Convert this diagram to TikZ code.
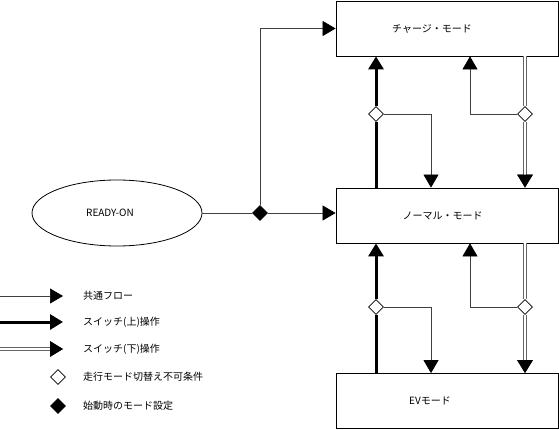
\documentclass[tikz,border=0pt]{standalone}
\usepackage{fontspec}
\setmainfont{Noto Sans CJK JP}
\usetikzlibrary{arrows.meta,shapes.geometric}
\tikzset{
  mode/.style={draw,line width=.8pt,minimum width=222pt,minimum height=55pt,inner sep=0pt},
  tip/.style={-{Triangle[width=15pt,length=13pt,fill=black,color=black]}},
  flow/.style={draw=black!75,line width=.7pt},
  upop/.style={draw=black,line width=3pt},
  downop/.style={draw=white,line width=1.4pt,preaction={draw=black!60,line width=3.6pt}},
  cond/.style={diamond,draw,line width=.8pt,fill=white,minimum width=15pt,minimum height=15pt,inner sep=0pt},
  init/.style={cond,fill=black},
  lbl/.style={anchor=west,inner sep=0pt}
}
\begin{document}
\begin{tikzpicture}[x=1pt,y=-1pt,font=\fontsize{10}{12}\selectfont]
\useasboundingbox (0,0) rectangle (559,430);
% modes
\node[mode,label={[xshift=-15pt]center:チャージ・モード}] (charge) at (447,28.5) {};
\node[mode,label={[xshift=-4.5pt]center:ノーマル・モード}] (normal) at (447,215.5) {};
\node[mode,label={[xshift=-17pt]center:EVモード}] (ev) at (447,401) {};
\node[ellipse,draw,line width=.8pt,minimum width=170pt,minimum height=66pt,
  label={[xshift=-7pt]center:READY-ON}] (ready) at (117,213) {};
% start
\node[init] (s) at (260,213) {};
\draw[flow] (ready.east) -- (s.west);
\draw[flow,tip] (s.east) -- (normal.west |- s);
\draw[flow,tip] (s.north) |- (charge.west);
% conditions
\coordinate (xa) at (431,0);
\coordinate (xb) at (470,0);
\node[cond] (c1) at (376,114) {};
\node[cond] (d1) at (525,114) {};
\node[cond] (c2) at (376,307) {};
\node[cond] (d2) at (525,307) {};
% normal <-> charge
\draw[upop] (normal.north -| c1) -- (c1.south);
\draw[upop,tip] (c1.north) -- (charge.south -| c1);
\draw[flow,tip] (c1.east) -| (normal.north -| xa);
\draw[downop] (charge.south -| d1) -- (d1.north);
\draw[downop,tip] (d1.south) -- (normal.north -| d1);
\draw[flow,tip] (d1.west) -| (charge.south -| xb);
% ev <-> normal
\draw[upop] (ev.north -| c2) -- (c2.south);
\draw[upop,tip] (c2.north) -- (normal.south -| c2);
\draw[flow,tip] (c2.east) -| (ev.north -| xa);
\draw[downop] (normal.south -| d2) -- (d2.north);
\draw[downop,tip] (d2.south) -- (ev.north -| d2);
\draw[flow,tip] (d2.west) -| (normal.south -| xb);
% legend
\foreach \y/\st/\txt [count=\i] in {296/flow/共通フロー,322/upop/スイッチ(上)操作,349/downop/スイッチ(下)操作}{
  \coordinate (la\i) at (0,\y);
  \coordinate (lb\i) at (63,\y);
  \draw[\st,tip] (la\i) -- (lb\i);
  \node[lbl] (lt\i) at (83,\y) {\txt};
}
\node[cond] (lc) at (58,377) {};
\node[lbl] (lt4) at (83,377) {走行モード切替え不可条件};
\node[init] (ls) at (58,406) {};
\node[lbl] (lt5) at (83,406) {始動時のモード設定};
\end{tikzpicture}
\end{document}
